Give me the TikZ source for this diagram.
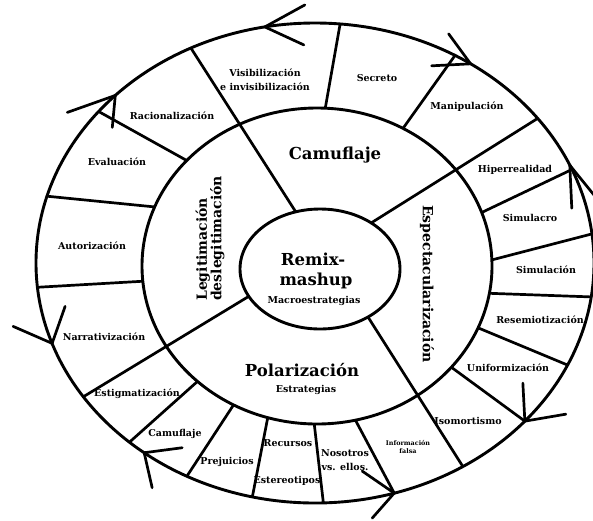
\documentclass[tikz,border=0pt]{standalone}
\usepackage{fontspec}
\setmainfont{DejaVu Serif}
\usetikzlibrary{shapes.geometric,calc}
\tikzset{
  oval/.style={ellipse, draw, line width=2.9pt, inner sep=0pt, outer sep=0pt},
  divider/.style={draw, line width=2.7pt},
  arrowarm/.style={draw, line width=2.7pt, line cap=round},
  lbl/.style={font=\bfseries\fontsize{9.5}{13.5}\selectfont, inner sep=0pt, align=center},
  tinylbl/.style={font=\bfseries\fontsize{6.4}{8}\selectfont, inner sep=0pt, align=center},
  biglbl/.style={font=\bfseries\fontsize{16.5}{19}\selectfont, inner sep=0pt, align=center},
  sidelbl/.style={font=\bfseries\fontsize{14}{14.5}\selectfont, inner sep=0pt},
}
\begin{document}
\begin{tikzpicture}[x=1pt,y=-1pt]
\useasboundingbox (0,0) rectangle (593,520);
% ellipses
\node[oval, minimum width=558pt, minimum height=480pt] (O) at (315,263) {};
\node[oval, minimum width=350pt, minimum height=316pt] (M) at (317,266) {};
\node[oval, minimum width=160pt, minimum height=120pt] (I) at (320,269) {};
% major dividers (inner to outer)
\draw[divider] (I.113) -- (O.120.2);
\draw[divider] (I.42.1) -- (O.33);
\draw[divider] (I.-45.6) -- (O.-54.8);
\draw[divider] (I.201.4) -- (O.210);
% minor dividers (middle to outer)
\draw[divider] (M.87.8) -- (O.84.8);
\draw[divider] (M.58.3) -- (O.56.6);
\draw[divider] (M.18.4) -- (O.20.6);
\draw[divider] (M.2.9) -- (O.6.8);
\draw[divider] (M.-9.5) -- (O.-7.6);
\draw[divider] (M.-21.8) -- (O.-22.4);
\draw[divider] (M.-37.4) -- (O.-37.4);
\draw[divider] (M.-76.1) -- (O.-71.0);
\draw[divider] (M.-91.8) -- (O.-88.1);
\draw[divider] (M.-108.2) -- (O.-105.5);
\draw[divider] (M.-121.1) -- (O.-121.8);
\draw[divider] (M.-136.5) -- (O.-136.0);
\draw[divider] (M.185.6) -- (O.185.2);
\draw[divider] (M.160.5) -- (O.166.2);
\draw[divider] (M.141.2) -- (O.145.5);
% arrowheads on the outer ellipse
\coordinate (t1) at (O.102.7);
\coordinate (t2) at (O.140.5);
\coordinate (t3) at (O.52.5);
\coordinate (t4) at (O.21.6);
\coordinate (t5) at (O.-37.4);
\coordinate (t6) at (O.-71.0);
\coordinate (t7) at (O.-132.6);
\coordinate (t8) at (O.197.3);
\draw[arrowarm] ($(t1)+(40,-22)$) -- (t1) -- ($(t1)+(39,18)$);
\draw[arrowarm] ($(t2)+(-48,17)$) -- (t2) -- ($(t2)+(-3,32)$);
\draw[arrowarm] ($(t3)+(-22,-30)$) -- (t3) -- ($(t3)+(-39,2)$);
\draw[arrowarm] ($(t4)+(2,43)$) -- (t4) -- ($(t4)+(26,32)$);
\draw[arrowarm] ($(t5)+(-2,-38)$) -- (t5) -- ($(t5)+(41,-7)$);
\draw[arrowarm] ($(t6)+(-32,-22)$) -- (t6) -- ($(t6)+(-22,25)$);
\draw[arrowarm] ($(t7)+(38,-5)$) -- (t7) -- ($(t7)+(8,35)$);
\draw[arrowarm] ($(t8)+(-39,-17)$) -- (t8) -- ($(t8)+(13,-37)$);
% centre
\node[biglbl] (remix) at (313,259) {Remix-};
\node[biglbl] (mashup) at (316,281) {mashup};
\node[lbl] (macro) at (314,301) {Macroestrategias};
% strategies
\node[biglbl] (camu) at (335,155) {Camuflaje};
\node[biglbl] (polar) at (302,370) {Polarización};
\node[lbl] (estr) at (306,390) {Estrategias};
\node[sidelbl, rotate=90, anchor=west, align=left] (legit) at (210,301) {Legitimación\\deslegitimación};
\node[sidelbl, rotate=-90] (espec) at (427,284) {Espectacularización};
% outer ring labels
\node[lbl] (visib) at (265,80) {Visibilización\\e invisibilización};
\node[lbl] (secreto) at (377,78) {Secreto};
\node[lbl] (manip) at (467,107) {Manipulación};
\node[lbl] (hiper) at (515,170) {Hiperrealidad};
\node[lbl] (simulacro) at (530,218) {Simulacro};
\node[lbl] (simulacion) at (546,270) {Simulación};
\node[lbl] (resem) at (540,320) {Resemiotización};
\node[lbl] (unif) at (508,368) {Uniformización};
\node[lbl] (isom) at (468,421) {Isomortismo};
\node[tinylbl] (info) at (408,447) {Información\\falsa};
\node[lbl] (nos) at (345,460) {Nosotros\\vs. ellos.};
\node[lbl] (recursos) at (288,443) {Recursos};
\node[lbl] (estereo) at (287,481) {Estereotipos};
\node[lbl] (prej) at (227,462) {Prejuicios};
\node[lbl] (camus) at (175,434) {Camuflaje};
\node[lbl] (estig) at (137,394) {Estigmatización};
\node[lbl] (narr) at (104,337) {Narrativización};
\node[lbl] (autor) at (92,246) {Autorización};
\node[lbl] (eval) at (117,162) {Evaluación};
\node[lbl] (racio) at (172,116) {Racionalización};
\end{tikzpicture}
\end{document}
